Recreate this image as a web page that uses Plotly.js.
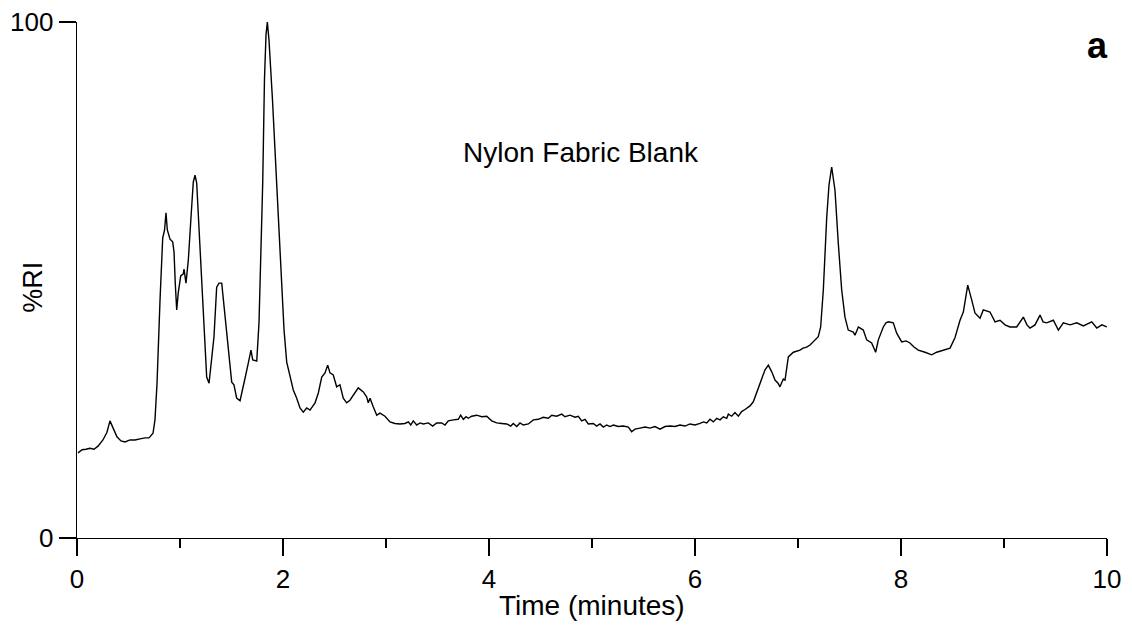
<!DOCTYPE html>
<html>
<head>
<meta charset="utf-8">
<script src="https://cdn.plot.ly/plotly-3.0.1.min.js"></script>
<style>html,body{margin:0;padding:0;background:#fff;}#chart{width:1132px;height:628px;}</style>
</head>
<body>
<div id="chart"></div>
<script>
// Retention time (minutes)
const timeMin = [
0.01,0.05,0.087,0.126,0.165,0.204,0.252,0.291,0.32,0.35,0.388,0.427,0.466,0.515,0.563,0.612,0.66,0.699,0.738,0.757,
0.777,0.806,0.832,0.85,0.864,0.877,0.903,0.929,0.942,0.954,0.968,0.983,1.007,1.032,1.039,1.058,1.081,1.107,1.129,1.146,
1.162,1.187,1.211,1.233,1.259,1.282,1.308,1.33,1.356,1.379,1.405,1.427,1.453,1.476,1.502,1.524,1.55,1.583,1.609,1.634,
1.663,1.689,1.706,1.745,1.767,1.786,1.803,1.82,1.835,1.848,1.864,1.898,1.922,1.955,1.987,2.01,2.036,2.068,2.1,2.133,
2.165,2.197,2.23,2.262,2.311,2.343,2.376,2.408,2.434,2.456,2.488,2.521,2.553,2.585,2.618,2.65,2.683,2.731,2.78,2.813,
2.828,2.845,2.877,2.91,
2.942,2.990,3.039,3.087,3.136,3.184,3.217,3.240,3.265,3.298,3.330,3.362,3.411,3.453,3.492,3.541,3.573,3.605,3.654,3.702,
3.725,3.751,3.777,3.799,3.832,3.881,3.929,3.978,4.026,4.075,4.123,4.172,4.211,4.236,4.269,4.301,4.333,4.382,4.430,4.479,
4.527,4.576,4.609,4.657,4.706,4.738,4.786,4.835,4.867,4.900,4.932,4.964,5.013,5.045,5.078,5.110,5.143,5.175,5.207,5.256,
5.304,5.353,5.385,5.417,5.466,5.515,5.563,5.612,5.660,5.709,5.757,5.806,5.854,5.903,5.951,6.0,6.049,6.081,6.114,6.146,
6.178,6.211,6.243,6.275,6.308,6.324,6.356,6.388,6.421,6.453,6.485,6.518,6.534,6.566,
6.583,6.612,6.648,6.68,6.712,6.745,6.777,6.806,6.825,6.857,6.874,6.906,
6.955,6.99,7.019,7.049,7.084,7.117,7.148,7.197,7.22,7.246,7.279,7.301,7.327,7.359,7.391,7.424,7.456,7.488,7.537,7.553,
7.586,7.634,7.667,7.715,7.754,7.78,7.828,7.854,7.877,7.925,7.958,8.007,8.049,8.087,8.126,8.168,8.233,8.298,8.346,8.411,
8.476,8.524,8.573,8.605,8.648,8.687,8.718,8.767,8.799,8.864,8.913,8.961,9.01,9.058,9.123,9.188,9.223,9.252,9.301,9.35,
9.379,9.415,9.479,9.528,9.576,9.641,9.706,9.77,9.816,9.852,9.901,9.95,9.998
];
// Relative intensity (%RI)
const relIntensity = [
16.5,17.1,17.2,17.4,17.2,17.8,19.0,20.5,22.7,21.3,19.6,18.8,18.6,19.0,19.0,19.2,19.4,19.4,20.3,22.9,
30.0,46.1,58.1,59.7,63.0,59.7,57.9,57.4,55.4,49.4,44.2,47.5,50.8,51.2,52.1,49.4,53.9,62.2,69.0,70.3,
68.8,59.1,49.4,39.0,31.2,30.0,35.1,39.0,48.6,49.4,49.4,44.8,40.3,35.1,30.2,29.7,27.1,26.6,28.7,31.2,
33.9,36.4,34.5,34.3,41.7,55.8,68.8,88.8,97.5,100,96.5,84.9,75.2,62.2,48.1,40.3,34.1,31.2,28.7,27.1,
25.2,24.4,25.2,24.8,26.2,28.1,31.2,32.0,33.5,32.0,31.6,29.3,29.7,27.1,26.2,26.7,27.7,29.1,28.3,27.3,
26.2,27.1,25.4,23.8,
24.2,23.6,22.5,22.2,22.1,22.2,22.5,21.9,22.7,21.9,22.3,22.1,22.3,21.7,22.3,22.3,21.9,22.7,22.9,23.0,
23.8,23.0,23.5,23.2,23.6,23.8,23.5,23.6,22.7,22.3,22.2,22.1,21.7,22.2,21.6,22.3,21.9,22.1,22.9,23.0,
23.4,23.2,23.8,23.6,24.0,23.5,23.8,23.4,23.6,22.7,23.0,22.1,22.2,21.7,22.1,21.5,21.9,21.6,21.9,21.6,
21.7,21.5,20.6,21.1,21.3,21.5,21.3,21.6,21.1,21.6,21.7,21.6,21.9,21.7,22.1,21.9,22.2,22.5,22.3,23.0,
22.5,23.2,22.9,23.5,23.2,24.0,23.6,24.3,23.6,24.5,24.9,25.3,25.6,26.4,
27.3,28.7,30.8,32.6,33.5,32.2,30.6,30.0,29.3,30.8,30.6,35.1,
36.0,36.2,36.4,36.8,37.0,37.4,38.0,39.0,40.9,48.1,62.2,68.4,71.9,67.4,57.2,48.1,42.8,40.3,39.9,39.3,
40.9,40.3,38.4,37.8,36.0,38.4,40.9,41.7,41.9,41.7,39.7,38.0,38.2,37.8,37.0,36.4,36.0,35.5,36.0,36.4,
36.8,38.8,42.2,43.8,49.0,46.1,43.6,42.6,44.2,43.8,41.9,42.2,41.3,40.9,40.9,42.8,41.3,40.7,41.3,43.2,
41.9,41.7,42.2,40.3,41.7,41.3,41.7,41.1,41.5,41.9,40.7,41.3,40.9
];
const xTickVals = [0, 2, 4, 6, 8, 10];
const xTickText = ["0", "2", "4", "6", "8", "10"];
const yTickVals = [0, 100];
const yTickText = ["0", "100"];
const chartLabel = "Nylon Fabric Blank";
const panelLetter = "a";
const xTitle = "Time (minutes)";
const yTitle = "%RI";

const FONT = "Liberation Sans, Arial, sans-serif";

const trace = {
  x: timeMin, y: relIntensity, type: "scatter", mode: "lines",
  line: {color: "#000", width: 1.4}, hoverinfo: "skip", showlegend: false
};

const layout = {
  width: 1132, height: 628,
  margin: {l: 77, r: 25, t: 22, b: 90, pad: 0},
  paper_bgcolor: "#fff", plot_bgcolor: "#fff",
  font: {family: FONT, color: "#000", size: 26},
  xaxis: {
    range: [0, 10], showgrid: false, zeroline: false,
    showline: true, linecolor: "#000", linewidth: 1.4,
    ticks: "outside", ticklen: 17, tickwidth: 1.4, tickcolor: "#000",
    tickvals: xTickVals, ticktext: xTickText,
    tickfont: {family: FONT, size: 26, color: "#000"},
    minor: {dtick: 1, tick0: 0, ticks: "outside", ticklen: 9, tickwidth: 1.4, tickcolor: "#000", showgrid: false},
    fixedrange: true
  },
  yaxis: {
    range: [0, 100], showgrid: false, zeroline: false,
    showline: true, linecolor: "#000", linewidth: 1.4,
    ticks: "outside", ticklen: 17, tickwidth: 1.4, tickcolor: "#000",
    tickvals: yTickVals, ticktext: yTickText,
    tickfont: {family: FONT, size: 26, color: "#000"},
    fixedrange: true
  },
  annotations: [
    {text: chartLabel, xref: "x", yref: "y", x: 4.89, y: 74.8, showarrow: false,
     font: {family: FONT, size: 28, color: "#000"}, xanchor: "center", yanchor: "middle"},
    {text: "<b>" + panelLetter + "</b>", xref: "paper", yref: "paper", x: 1, y: 0.955, xshift: 3, showarrow: false,
     font: {family: FONT, size: 36, color: "#000"}, xanchor: "right", yanchor: "middle"},
    {text: xTitle, xref: "paper", yref: "paper", x: 0.5, y: -0.13, showarrow: false,
     font: {family: FONT, size: 28, color: "#000"}, xanchor: "center", yanchor: "middle"},
    {text: yTitle, xref: "paper", yref: "paper", x: -0.0427, y: 0.485, showarrow: false, textangle: -90,
     font: {family: FONT, size: 27, color: "#000"}, xanchor: "center", yanchor: "middle"}
  ]
};

Plotly.newPlot("chart", [trace], layout, {staticPlot: true, displayModeBar: false});
</script>
</body>
</html>
